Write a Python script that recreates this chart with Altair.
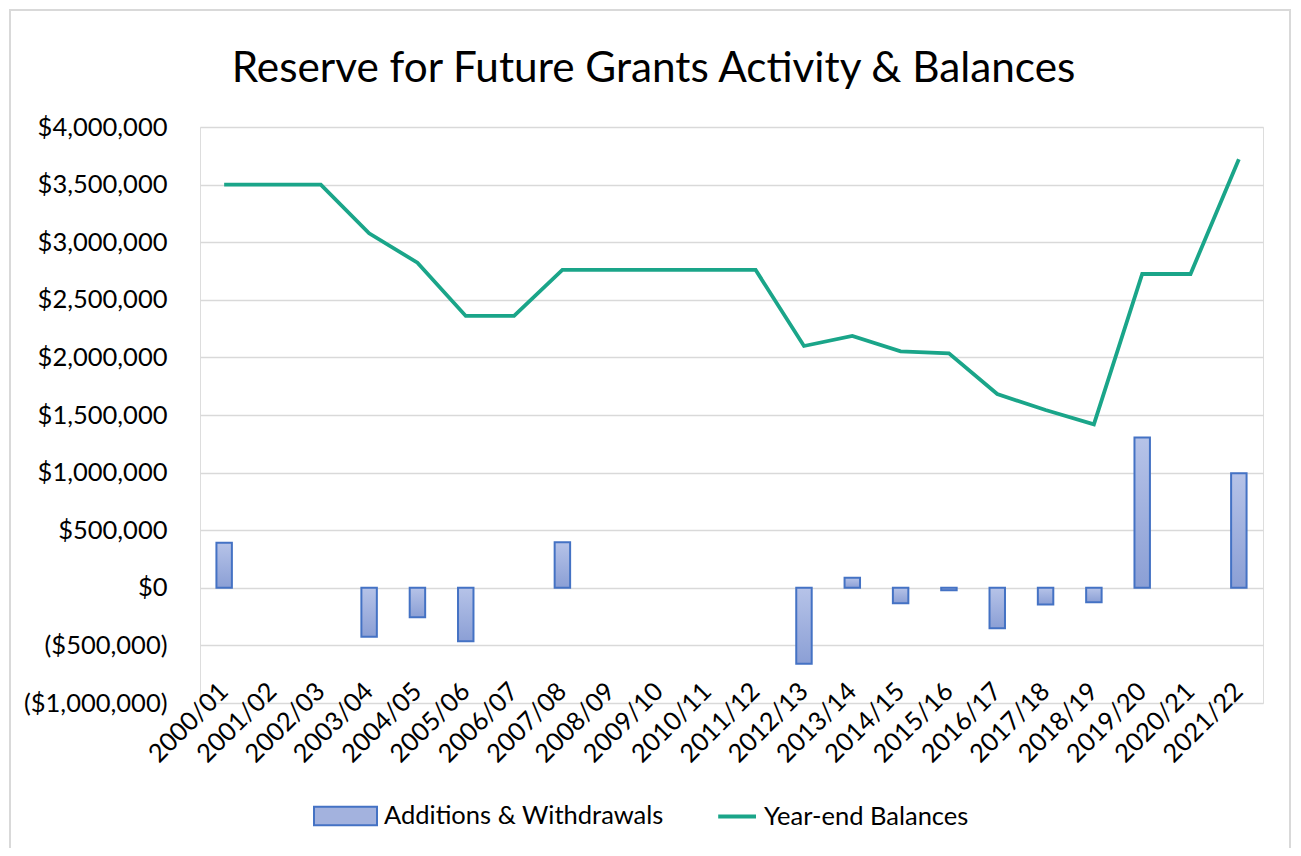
import altair as alt
import pandas as pd

years = ["2000/01", "2001/02", "2002/03", "2003/04", "2004/05", "2005/06", "2006/07",
         "2007/08", "2008/09", "2009/10", "2010/11", "2011/12", "2012/13", "2013/14",
         "2014/15", "2015/16", "2016/17", "2017/18", "2018/19", "2019/20", "2020/21", "2021/22"]
changes = [390000, 0, 0, -425000, -255000, -465000, 0,
           395000, 0, 0, 0, 0, -660000, 88000,
           -135000, -22000, -352000, -145000, -125000, 1305000, 0, 995000]
balances = [3500000, 3500000, 3500000, 3077000, 2822000, 2360000, 2360000,
            2759000, 2759000, 2759000, 2759000, 2759000, 2099000, 2186000,
            2053000, 2035000, 1682000, 1543000, 1419000, 2724000, 2724000, 3720000]
series_names = ["Additions & Withdrawals", "Year-end Balances"]
y_ticks = [-1000000, -500000, 0, 500000, 1000000, 1500000, 2000000, 2500000, 3000000, 3500000, 4000000]

df = pd.DataFrame({"year": years, "change": changes, "balance": balances})
bar_df = df[df["change"] != 0]
legend_df = pd.DataFrame({"series": series_names, "v": [0, 0], "year": [years[0], years[0]]})

FONT = "Lato"
FS = 25.5
W, H = 1063, 576
GRID = "#d9d9d9"

xscale = alt.Scale(domain=years, paddingInner=0.68, paddingOuter=0.34)
yscale = alt.Scale(domain=[-1000000, 4000000], nice=False, zero=False)

x_axis = alt.Axis(title=None, labelAngle=-45, labelAlign="right", labelBaseline="middle",
                  labelPadding=-16, ticks=False, tickSize=0, domain=False, grid=False,
                  labelFont=FONT, labelFontSize=FS, labelColor="#000000")
y_axis = alt.Axis(title=None, values=y_ticks, ticks=False, tickSize=0, domain=False,
                  grid=True, gridColor=GRID, gridWidth=1.4, labelPadding=33,
                  labelFont=FONT, labelFontSize=FS, labelColor="#000000",
                  labelExpr="datum.value < 0 ? '(' + format(-datum.value, '$,') + ')' : format(datum.value, '$,')")

bar_grad = alt.Gradient(gradient="linear",
                        stops=[alt.GradientStop(color="#b6c3e8", offset=0),
                               alt.GradientStop(color="#8b9fd5", offset=1)],
                        x1=0, x2=0, y1=0, y2=1)

bars = alt.Chart(bar_df).mark_bar(color=bar_grad, stroke="#4472c4", strokeWidth=2).encode(
    x=alt.X("year:N", scale=xscale, axis=x_axis, sort=years),
    y=alt.Y("change:Q", scale=yscale, axis=y_axis),
    y2=alt.datum(0),
)

line = alt.Chart(df).mark_line(color="#1aa589", strokeWidth=3.8).encode(
    x=alt.X("year:N", scale=xscale, sort=years),
    y=alt.Y("balance:Q", scale=yscale),
)


def leg():
    return alt.Legend(title=None, orient="none", legendX=113, legendY=656, direction="horizontal",
                      labelFont=FONT, labelFontSize=FS, labelColor="#000000", labelOffset=6,
                      labelLimit=500, columnPadding=27, symbolSize=3969, padding=0,
                      symbolOpacity=1)


legend_layer = alt.Chart(legend_df).mark_point(size=0, opacity=1).encode(
    x=alt.X("year:N", scale=xscale, sort=years),
    y=alt.Y("v:Q", scale=yscale),
    fill=alt.Fill("series:N", scale=alt.Scale(domain=series_names, range=["#a3b2de", "transparent"]),
                  legend=leg()),
    stroke=alt.Stroke("series:N", scale=alt.Scale(domain=series_names, range=["#4472c4", "#1aa589"]),
                      legend=leg()),
    strokeWidth=alt.StrokeWidth("series:N", scale=alt.Scale(domain=series_names, range=[2, 4]),
                                legend=leg()),
    shape=alt.Shape("series:N", scale=alt.Scale(domain=series_names,
                                                range=["M-1,-0.29L1,-0.29L1,0.29L-1,0.29Z", "M-0.2,0L1,0"]),
                    legend=leg()),
)

frame = alt.Chart(alt.Data(values=[{"a": 1}])).mark_rect(
    filled=False, fill="transparent", stroke=GRID, strokeWidth=2
).encode(x=alt.value(-190), x2=alt.value(1090), y=alt.value(-117), y2=alt.value(760))

chart = alt.layer(frame, bars, line, legend_layer).properties(
    width=W, height=H,
    title=alt.TitleParams(
        "Reserve for Future Grants Activity & Balances",
        font=FONT, fontSize=42.3, fontWeight="normal", color="#000000",
        anchor="middle", frame="group", dx=-78, offset=-115, baseline="alphabetic",
    ),
    autosize=alt.AutoSizeParams(type="none"),
    padding={"left": 192, "top": 119, "right": 30, "bottom": 145},
).configure_view(stroke=None).configure(background="white")

chart.save("out.html", embed_options={"renderer": "svg", "actions": False})
